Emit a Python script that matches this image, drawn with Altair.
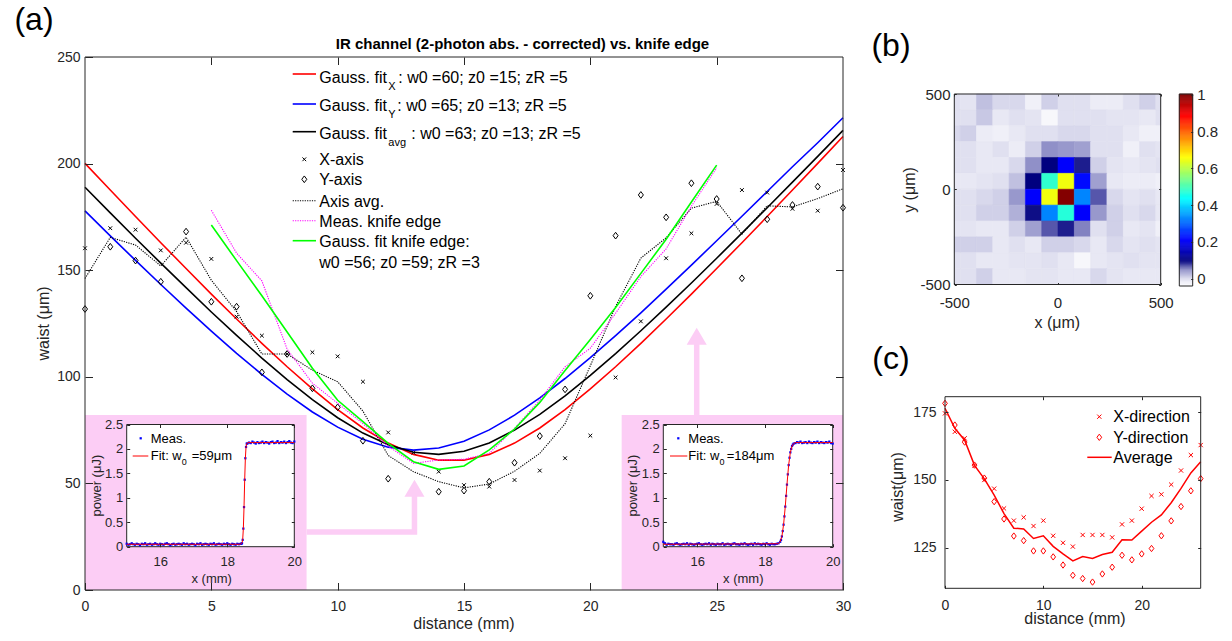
import altair as alt
import pandas as pd

FONT = "Liberation Sans"
AX = "#262626"
PINK = "#FCCDF5"
W, H = 1232, 641

# ---------------- (a) main panel data ----------------
dist = list(range(31))
x_axis_waist = [160.3, 169.7, 169.0, 159.3, 162.9, 155.3, 128.2, 119.3, 110.7, 111.5, 109.6, 97.7, 73.9, 64.4, 55.5,
                49.2, 48.5, 51.6, 56.0, 61.8, 72.4, 99.7, 126.0, 155.6, 167.3, 181.1, 187.6, 186.4, 178.8, 177.9, 197.0]
y_axis_waist = [131.8, 161.0, 154.5, 144.6, 168.1, 135.2, 132.9, 102.1, 110.7, 94.6, 85.7, 70.0, 52.2, 46.6, 46.1,
                46.6, 50.8, 59.7, 72.2, 94.1, 138.0, 166.2, 185.3, 174.8, 190.8, 183.4, 146.2, 173.9, 180.6, 189.2, 179.3]
axis_avg = [146.1, 165.4, 161.8, 152.0, 165.5, 145.3, 130.6, 110.7, 110.7, 103.1, 97.7, 83.9, 63.1, 55.5, 50.8,
            47.9, 49.7, 55.7, 64.1, 78.0, 105.2, 133.0, 155.7, 165.2, 179.1, 182.3, 166.9, 180.2, 179.7, 183.6, 188.2]
fit_x = [200.1, 187.6, 175.2, 162.9, 150.8, 138.8, 127.1, 115.7, 104.7, 94.3, 84.6, 76.0, 68.9, 63.6, 60.9,
         60.9, 63.6, 68.9, 76.0, 84.6, 94.3, 104.7, 115.7, 127.1, 138.8, 150.8, 162.9, 175.2, 187.6, 200.1, 212.7]
fit_y = [177.8, 166.1, 154.6, 143.3, 132.2, 121.4, 111.0, 101.1, 91.9, 83.5, 76.4, 70.7, 67.0, 65.6, 66.6,
         69.8, 75.1, 82.0, 90.1, 99.2, 109.0, 119.3, 130.0, 141.1, 152.4, 163.8, 175.3, 186.9, 198.5, 209.8, 221.5]
fit_avg = [188.9, 176.9, 165.0, 153.3, 141.8, 130.4, 119.4, 108.8, 98.7, 89.3, 80.8, 73.6, 68.1, 64.6, 63.6,
           65.1, 69.0, 75.0, 82.4, 91.1, 100.7, 110.9, 121.6, 132.7, 144.0, 155.6, 167.4, 179.3, 191.3, 203.4, 215.6]
ke_dist = list(range(5, 26))
ke_meas = [178.1, 158.0, 145.0, 113.0, 97.0, 87.6, 78.0, 67.5, 59.4, 61.0, 61.3, 64.1, 75.8, 89.1, 104.7,
           113.4, 129.8, 147.0, 160.0, 180.0, 198.0]
ke_fit = [171.2, 154.5, 138.0, 121.0, 104.0, 89.0, 79.0, 68.8, 60.2, 56.6, 58.2, 65.7, 75.5, 88.0, 103.0,
          117.5, 132.5, 148.5, 164.5, 182.0, 199.3]

# ---------------- insets (knife-edge scans) ----------------
grid_low = [round(15 + 0.05 * i, 2) for i in range(69)]          # 15.00 .. 18.40
left_low = [0.06, 0.04, 0.05, 0.07, 0.05, 0.04, 0.06, 0.05, 0.03, 0.06,
            0.05, 0.07, 0.04, 0.05, 0.06, 0.04, 0.05, 0.07, 0.05, 0.04,
            0.06, 0.05, 0.04, 0.06, 0.07, 0.05, 0.03, 0.05, 0.06, 0.04,
            0.05, 0.06, 0.05, 0.04, 0.07, 0.05, 0.06, 0.04, 0.05, 0.06,
            0.05, 0.03, 0.06, 0.05, 0.07, 0.04, 0.05, 0.06, 0.05, 0.04,
            0.06, 0.05, 0.07, 0.04, 0.05, 0.06, 0.05, 0.04, 0.06, 0.05,
            0.07, 0.05, 0.04, 0.06, 0.05, 0.04, 0.06, 0.05, 0.06]
left_rise_x = [18.42, 18.44, 18.46, 18.48, 18.50, 18.52, 18.54, 18.56, 18.58]
left_rise = [0.06, 0.07, 0.14, 0.37, 0.81, 1.37, 1.81, 2.04, 2.11]
left_high_x = [round(18.6 + 0.05 * i, 2) for i in range(29)]      # 18.60 .. 20.00
left_high = [2.11, 2.13, 2.12, 2.15, 2.13, 2.11, 2.14, 2.12, 2.13, 2.15,
             2.12, 2.14, 2.13, 2.11, 2.14, 2.15, 2.12, 2.13, 2.16, 2.12,
             2.14, 2.13, 2.15, 2.12, 2.14, 2.16, 2.13, 2.12, 2.15]
left_fit_x = [15, 18.40, 18.44, 18.46, 18.48, 18.50, 18.52, 18.54, 18.56, 18.58, 18.62, 20]
left_fit = [0.05, 0.05, 0.08, 0.14, 0.37, 0.81, 1.37, 1.81, 2.04, 2.11, 2.13, 2.13]

right_low = [0.10, 0.07, 0.04, 0.06, 0.05, 0.05, 0.04, 0.06, 0.07, 0.05,
             0.04, 0.05, 0.06, 0.05, 0.07, 0.04, 0.06, 0.05, 0.04, 0.05,
             0.06, 0.07, 0.05, 0.04, 0.05, 0.06, 0.05, 0.07, 0.04, 0.06,
             0.05, 0.04, 0.06, 0.05, 0.05, 0.07, 0.04, 0.05, 0.06, 0.05,
             0.04, 0.06, 0.07, 0.05, 0.05, 0.04, 0.06, 0.05, 0.07, 0.05,
             0.04, 0.05, 0.06, 0.04, 0.07, 0.05, 0.06, 0.05, 0.04, 0.06,
             0.05, 0.07, 0.05, 0.04, 0.06, 0.05, 0.05, 0.06, 0.07]
right_rise_x = [18.45, 18.475, 18.5, 18.525, 18.55, 18.575, 18.6, 18.625, 18.65, 18.675,
                18.7, 18.725, 18.75, 18.775, 18.8, 18.825, 18.85]
right_rise = [0.10, 0.14, 0.21, 0.32, 0.45, 0.62, 0.82, 1.04, 1.27, 1.48,
              1.67, 1.82, 1.93, 2.00, 2.06, 2.09, 2.11]
right_high_x = [round(18.9 + 0.05 * i, 2) for i in range(23)]     # 18.90 .. 20.00
right_high = [2.12, 2.14, 2.13, 2.15, 2.12, 2.13, 2.14, 2.12, 2.15, 2.13,
              2.12, 2.14, 2.13, 2.15, 2.12, 2.14, 2.13, 2.12, 2.14, 2.13,
              2.15, 2.12, 2.11]
right_fit_x = [15, 18.40, 18.45, 18.5, 18.55, 18.6, 18.65, 18.7, 18.75, 18.8, 18.85, 18.9, 19.0, 20]
right_fit = [0.05, 0.06, 0.10, 0.21, 0.45, 0.82, 1.27, 1.67, 1.93, 2.06, 2.11, 2.13, 2.13, 2.13]

# ---------------- (b) beam profile ----------------
hx = [-511, -432, -353, -274, -195, -116, -37, 42, 121, 200, 279, 358, 437, 516]
hy = [458.3, 375.0, 291.7, 208.3, 125.0, 41.7, -41.7, -125.0, -208.3, -291.7, -375.0, -458.3]
heat = [
    [0.0, -0.005, 0.02, 0.005, 0.005, -0.02, 0.01, 0.0, 0.0, -0.015, -0.015, 0.0, 0.01, 0.0],
    [0.0, 0.0, 0.015, -0.01, 0.0, -0.005, -0.03, 0.0, 0.0, 0.0, -0.005, -0.005, -0.01, 0.0],
    [0.005, 0.01, -0.015, -0.02, -0.01, 0.0, 0.0, 0.005, 0.005, 0.0, 0.0, -0.01, -0.02, -0.02],
    [0.0, 0.0, -0.01, 0.0, -0.015, 0.01, 0.05, 0.045, 0.04, 0.0, 0.0, -0.02, 0.0, -0.005],
    [0.0, 0.0, -0.01, -0.01, 0.005, 0.05, 0.1, 0.21, 0.09, 0.01, -0.005, -0.01, -0.005, 0.0],
    [-0.01, -0.01, -0.005, 0.0, 0.02, 0.1, 0.48, 0.65, 0.22, 0.04, -0.01, -0.015, -0.015, -0.02],
    [0.0, 0.0, 0.005, 0.01, 0.045, 0.21, 0.65, 1.0, 0.33, 0.07, 0.005, -0.005, 0.0, -0.01],
    [0.0, 0.0, 0.01, 0.01, 0.03, 0.095, 0.33, 0.47, 0.21, 0.045, 0.01, 0.0, 0.005, -0.01],
    [-0.005, -0.005, -0.01, -0.01, 0.01, 0.04, 0.07, 0.09, 0.055, 0.0, 0.01, -0.01, -0.005, -0.02],
    [0.01, 0.01, 0.01, -0.01, 0.0, -0.01, 0.01, 0.01, 0.005, -0.01, 0.005, -0.005, 0.0, -0.005],
    [0.0, 0.0, -0.01, -0.01, -0.005, -0.005, 0.0, -0.01, -0.03, -0.01, -0.005, 0.0, -0.005, -0.005],
    [0.0, 0.0, 0.01, -0.01, -0.01, -0.005, -0.005, -0.01, -0.01, 0.005, -0.005, -0.01, -0.01, -0.01],
]
cbar_ticks = [0, 0.2, 0.4, 0.6, 0.8, 1]

# ---------------- (c) waist vs distance ----------------
c_dist = list(range(27))
c_x = [174.6, 167.8, 165.4, 155.2, 150.0, 146.8, 139.5, 135.0, 136.2, 133.0, 135.0, 129.4, 126.8, 125.4,
       129.7, 129.7, 129.7, 128.8, 133.6, 135.0, 139.4, 144.1, 144.7, 148.3, 153.5, 159.2, 162.9]
c_y = [178.3, 170.3, 164.0, 155.5, 150.7, 142.0, 135.6, 129.3, 127.6, 123.8, 123.8, 121.6, 118.6, 114.8,
       113.6, 112.3, 115.3, 117.8, 122.2, 120.5, 122.7, 124.7, 129.4, 134.9, 140.2, 146.0, 150.5]
c_avg = [176.5, 169.1, 164.7, 155.4, 150.4, 144.4, 137.6, 132.2, 131.9, 128.4, 129.4, 125.5, 122.7, 120.1,
         121.7, 121.0, 122.5, 123.3, 127.9, 127.8, 131.1, 134.4, 137.1, 141.6, 146.9, 152.6, 156.7]

# ======================================================================
ONE = pd.DataFrame({"k": [0]})
XMARK = "M-1,-1L1,1M-1,1L1,-1"
DMARK = "M0,-1L0.75,0L0,1L-0.75,0Z"
HEAD = "M0,-1L1.18,1L-1.18,1Z"


def sc(dom, rng, **kw):
    return alt.Scale(domain=dom, range=rng, nice=False, zero=False, **kw)


XA = sc([0, 30], [85, 843])
YA = sc([0, 250], [590, 57])
XL = sc([15, 20], [126.7, 294.3])
XR = sc([15, 20], [663.3, 832.7])
YI = sc([0, 2.5], [546.7, 424.5])
XB = sc([-500, 500], [954.3, 1160.7], clamp=True)
YB = sc([-500, 500], [284.5, 94], clamp=True)
XCB = sc([0, 1], [1179.3, 1192.7])
YCB = sc([-0.04, 1.005], [286, 94])
XC = sc([0, 26], [945, 1200.7])
YC = sc([110, 180.76], [588.3, 396.7])


def axis(orient, offset, values, tick, labels=True, pad=4, size=14):
    kw = dict(orient=orient, offset=offset, values=values, tickSize=tick, tickColor=AX, tickWidth=1,
              domain=False, grid=False, title=None, labels=labels, zindex=1)
    if labels:
        kw.update(labelFont=FONT, labelFontSize=size, labelColor=AX, labelPadding=pad,
                  labelFlush=False, labelOverlap=False, labelExpr="datum.value")
    return alt.Axis(**kw)


def xy(chart, xf, yf, xs, ys, xaxis=None, yaxis=None, **extra):
    return chart.encode(x=alt.X(xf, scale=xs, axis=xaxis), y=alt.Y(yf, scale=ys, axis=yaxis), **extra)


def box(xs, ys, x0, x1, y0, y1, xaxis=None, yaxis=None, fill=None, stroke=AX, sw=1):
    df = pd.DataFrame({"a": [x0], "b": [x1], "c": [y0], "e": [y1]})
    mk = dict(strokeWidth=sw, stroke=stroke)
    if fill:
        mk["fill"] = fill
    else:
        mk["fillOpacity"] = 0
    return alt.Chart(df).mark_rect(**mk).encode(
        x=alt.X("a:Q", scale=xs, axis=xaxis), x2="b:Q",
        y=alt.Y("c:Q", scale=ys, axis=yaxis), y2="e:Q")


def T(s, x, y, size=16, align="left", baseline="alphabetic", angle=0, bold=False, color="black"):
    kw = dict(align=align, baseline=baseline, fontSize=size, font=FONT, color=color, text=s)
    if angle:
        kw["angle"] = angle
    if bold:
        kw["fontWeight"] = "bold"
    return alt.Chart(ONE).mark_text(**kw).encode(x=alt.value(x), y=alt.value(y))


def LR(x1, x2, y, color, width=1.6, dash=None):
    kw = dict(color=color, strokeWidth=width)
    if dash:
        kw["strokeDash"] = dash
    return alt.Chart(ONE).mark_rule(**kw).encode(x=alt.value(x1), x2=alt.value(x2), y=alt.value(y))


def LP(x, y, shape, size, color, filled=False):
    kw = dict(shape=shape, size=size, color=color, filled=filled, opacity=1)
    if not filled:
        kw["strokeWidth"] = 1
    return alt.Chart(ONE).mark_point(**kw).encode(x=alt.value(x), y=alt.value(y))


layers = []

# ---------------- (a) ----------------
dfA = pd.DataFrame({"d": dist, "xw": x_axis_waist, "yw": y_axis_waist, "avg": axis_avg,
                    "fx": fit_x, "fy": fit_y, "fa": fit_avg})
dfK = pd.DataFrame({"d": ke_dist, "m": ke_meas, "f": ke_fit})

layers.append(xy(alt.Chart(dfA).mark_line(color="#FF0000", strokeWidth=1.6), "d:Q", "fx:Q", XA, YA,
                 xaxis=axis("bottom", -58.5, [0, 5, 10, 15, 20, 25, 30], 7.5, pad=9, size=14),
                 yaxis=axis("left", -92.5, [0, 50, 100, 150, 200, 250], 7.5, pad=5, size=14)))
layers.append(xy(alt.Chart(dfA).mark_line(color="#0000FF", strokeWidth=1.6), "d:Q", "fy:Q", XA, YA))
layers.append(xy(alt.Chart(dfA).mark_line(color="#000000", strokeWidth=1.6), "d:Q", "fa:Q", XA, YA))
layers.append(xy(alt.Chart(dfA).mark_point(shape=XMARK, size=14, color="black", filled=False,
                                           strokeWidth=1, opacity=1), "d:Q", "xw:Q", XA, YA))
layers.append(xy(alt.Chart(dfA).mark_point(shape=DMARK, size=45, color="black", filled=False,
                                           strokeWidth=1, opacity=1), "d:Q", "yw:Q", XA, YA))
layers.append(xy(alt.Chart(dfA).mark_line(color="#000000", strokeWidth=1.1, strokeDash=[1.2, 1.2]),
                 "d:Q", "avg:Q", XA, YA))
layers.append(xy(alt.Chart(dfK).mark_line(color="#FF00FF", strokeWidth=1.1, strokeDash=[1.2, 1.2]),
                 "d:Q", "m:Q", XA, YA))
layers.append(xy(alt.Chart(dfK).mark_line(color="#00FF00", strokeWidth=1.6), "d:Q", "f:Q", XA, YA))

# pink inset panels
layers.append(box(XA, YA, 0, 8.77, 0, 82.1, fill=PINK, stroke=PINK, sw=0))
layers.append(box(XA, YA, 21.24, 30, 0, 82.1, fill=PINK, stroke=PINK, sw=0))

# pink arrows
arr_l = pd.DataFrame({"d": [8.77, 13.04, 13.04], "w": [27.2, 27.2, 44.5], "o": [0, 1, 2]})
layers.append(xy(alt.Chart(arr_l).mark_line(color=PINK, strokeWidth=5.5, strokeJoin="miter", strokeCap="butt"),
                 "d:Q", "w:Q", XA, YA, order="o:Q"))
arr_r = pd.DataFrame({"d": [24.21, 24.21], "w": [82.1, 115.5], "o": [0, 1]})
layers.append(xy(alt.Chart(arr_r).mark_line(color=PINK, strokeWidth=5.5, strokeCap="butt"),
                 "d:Q", "w:Q", XA, YA, order="o:Q"))
heads = pd.DataFrame({"d": [13.04, 24.21], "w": [47.7, 119.0]})
layers.append(xy(alt.Chart(heads).mark_point(shape=HEAD, size=289, color=PINK, filled=True, opacity=1),
                 "d:Q", "w:Q", XA, YA))

# insets
for XS, lowv, rx, rv, hxv, hv, fx, fv, left_off, right_off in [
    (XL, left_low, left_rise_x, left_rise, left_high_x, left_high, left_fit_x, left_fit, -129.7, -940.7),
    (XR, right_low, right_rise_x, right_rise, right_high_x, right_high, right_fit_x, right_fit, -666.3, -402.3),
]:
    layers.append(box(XS, YI, 15, 20, 0, 2.5, fill="white",
                      xaxis=axis("top", -427.5, [16, 18, 20], 3, labels=False),
                      yaxis=axis("right", right_off, [0, 0.5, 1, 1.5, 2, 2.5], 3, labels=False)))
    meas = pd.DataFrame({"x": grid_low + rx + hxv, "p": lowv + rv + hv})
    layers.append(xy(alt.Chart(meas).mark_square(size=5, color="#0000FF", opacity=1), "x:Q", "p:Q", XS, YI,
                     xaxis=axis("bottom", -97.3, [16, 18, 20], 3, pad=8.4, size=13),
                     yaxis=axis("left", left_off, [0, 0.5, 1, 1.5, 2, 2.5], 3, pad=4, size=13)))
    fit = pd.DataFrame({"x": fx, "p": fv})
    layers.append(xy(alt.Chart(fit).mark_line(color="#FF0000", strokeWidth=1), "x:Q", "p:Q", XS, YI))

# main box + top/right ticks
layers.append(box(XA, YA, 0, 30, 0, 250,
                  xaxis=axis("top", -64.5, [5, 10, 15, 20, 25], 7.5, labels=False),
                  yaxis=axis("right", -396.5, [50, 100, 150, 200], 7.5, labels=False)))

# ---------------- (b) ----------------
rows = []
for j, yc in enumerate(hy):
    for i, xc in enumerate(hx):
        rows.append({"x0": xc - 39.5, "x1": xc + 39.5, "y0": yc - 41.67, "y1": yc + 41.67, "v": heat[j][i]})
dfH = pd.DataFrame(rows)
CS = alt.Scale(domain=[-0.04, 0.0, 0.05, 0.1, 0.2125, 0.4375, 0.6625, 0.8875, 1.005],
               range=["#ffffff", "#e0e0f0", "#9090c8", "#00007f", "#0000ff", "#00ffff", "#ffff00", "#ff0000",
                      "#7f0000"],
               interpolate="rgb", clamp=True)
layers.append(alt.Chart(dfH).mark_rect(strokeWidth=0.6).encode(
    x=alt.X("x0:Q", scale=XB, axis=axis("bottom", -358.5, [-500, 0, 500], 2, pad=10.7, size=15)),
    x2="x1:Q",
    y=alt.Y("y0:Q", scale=YB, axis=axis("left", -956.3, [-500, 0, 500], 2, pad=4.3, size=15)),
    y2="y1:Q",
    color=alt.Color("v:Q", scale=CS, legend=None),
    stroke=alt.Stroke("v:Q", scale=CS, legend=None)))
layers.append(box(XB, YB, -500, 500, -500, 500,
                  xaxis=axis("top", -96, [-500, 0, 500], 2, labels=False),
                  yaxis=axis("right", -73.3, [-500, 0, 500], 2, labels=False)))

# colorbar: thin strips of the colour scale
cb_lo = [round(-0.04 + 0.005 * i, 3) for i in range(209)]
dfCB = pd.DataFrame({"lo": cb_lo, "hi": [v + 0.005 for v in cb_lo], "mid": [v + 0.0025 for v in cb_lo],
                     "a": [0] * len(cb_lo), "b": [1] * len(cb_lo)})
layers.append(alt.Chart(dfCB).mark_rect(strokeWidth=0.5).encode(
    x=alt.X("a:Q", scale=XCB, axis=None), x2="b:Q",
    y=alt.Y("lo:Q", scale=YCB, axis=None), y2="hi:Q",
    color=alt.Color("mid:Q", scale=CS, legend=None),
    stroke=alt.Stroke("mid:Q", scale=CS, legend=None)))
layers.append(box(XCB, YCB, 0, 1, -0.04, 1.005,
                  yaxis=axis("right", -41.3, cbar_ticks, 2, pad=4, size=15)))

# ---------------- (c) ----------------
dfC = pd.DataFrame({"d": c_dist, "x": c_x, "y": c_y, "a": c_avg})
layers.append(xy(alt.Chart(dfC).mark_point(shape=XMARK, size=18, color="#FF0000", filled=False,
                                           strokeWidth=1, opacity=1), "d:Q", "x:Q", XC, YC,
                 xaxis=axis("bottom", -55.7, [0, 10, 20], 3, pad=9.7, size=14),
                 yaxis=axis("left", -948, [125, 150, 175], 3, pad=9, size=14)))
layers.append(xy(alt.Chart(dfC).mark_point(shape=DMARK, size=40, color="#FF0000", filled=False,
                                           strokeWidth=1, opacity=1), "d:Q", "y:Q", XC, YC))
layers.append(xy(alt.Chart(dfC).mark_line(color="#FF0000", strokeWidth=1.5), "d:Q", "a:Q", XC, YC))
layers.append(box(XC, YC, 0, 26, 110, 180.76,
                  xaxis=axis("top", -399.7, [10, 20], 3, labels=False),
                  yaxis=axis("right", -34.3, [125, 150, 175], 3, labels=False)))

# ---------------- texts & legends ----------------
layers += [
    T("IR channel (2-photon abs. - corrected) vs. knife edge", 522.5, 49, size=15, align="center", bold=True),
    T("(a)", 34, 20, size=32, align="center", baseline="middle"),
    T("(b)", 891, 46, size=32, align="center", baseline="middle"),
    T("(c)", 891, 359, size=32, align="center", baseline="middle"),
    T("distance (mm)", 464, 624, size=16, align="center", baseline="middle", color=AX),
    T("waist (μm)", 44, 323.5, size=16, align="center", baseline="middle", angle=270, color=AX),
    T("x (μm)", 1057.3, 323.3, size=16, align="center", baseline="middle", color=AX),
    T("y (μm)", 910, 190, size=16, align="center", baseline="middle", angle=270, color=AX),
    T("waist(μm)", 898.3, 487, size=16, align="center", baseline="middle", angle=270, color=AX),
    T("distance (mm)", 1075, 619.3, size=16, align="center", baseline="middle", color=AX),
    T("x (mm)", 211.7, 579, size=13, align="center", baseline="middle", color=AX),
    T("power (μJ)", 96.7, 485.6, size=13, align="center", baseline="middle", angle=270, color=AX),
    T("x (mm)", 743.3, 579, size=13, align="center", baseline="middle", color=AX),
    T("power (μJ)", 633.3, 485.6, size=13, align="center", baseline="middle", angle=270, color=AX),
]

# legend (a)
leg = [
    ("#FF0000", 74, 82.5, "X", 398.3, ": w0 =60; z0 =15; zR =5"),
    ("#0000FF", 104, 110.8, "Y", 397.3, ": w0 =65; z0 =13; zR =5"),
    ("#000000", 131.7, 138.5, "avg", 411.3, ": w0 =63; z0 =13; zR =5"),
]
for col, ly, bl, sub, rx0, rest in leg:
    layers += [LR(292.7, 316, ly, col), T("Gauss. fit", 319.3, bl), T(sub, 388.3, bl + 7, size=11),
               T(rest, rx0, bl)]
layers += [
    LP(304.3, 159.3, XMARK, 14, "black"), T("X-axis", 319.3, 165.1),
    LP(304.3, 179.3, DMARK, 45, "black"), T("Y-axis", 319.3, 185.1),
    LR(292.7, 316, 200.7, "#000000", width=1.1, dash=[1.2, 1.2]), T("Axis avg.", 319.3, 206.5),
    LR(292.7, 316, 220.7, "#FF00FF", width=1.1, dash=[1.2, 1.2]), T("Meas. knife edge", 319.3, 226.5),
    LR(292.7, 316, 240.7, "#00FF00"), T("Gauss. fit knife edge:", 319.3, 246.5),
    T("w0 =56; z0 =59; zR =3", 319.3, 267.5),
]
# inset legends
for mx, tx, l1, l2, sx, rx0, val in [(140.7, 150.7, 132.7, 148.3, 181.7, 191.7, "=59μm"),
                                      (678.3, 688.3, 670, 687.3, 719.5, 726.7, "=184μm")]:
    layers += [
        LP(mx, 438.3, "square", 5, "#0000FF", filled=True), T("Meas.", tx, 443, size=13),
        LR(l1, l2, 456, "#FF0000", width=1), T("Fit: w", tx, 460, size=13), T("0", sx, 465, size=9),
        T(val, rx0, 460, size=13),
    ]
# legend (c)
layers += [
    LP(1099.3, 416.7, XMARK, 18, "#FF0000"), T("X-direction", 1113.3, 422.4),
    LP(1099.3, 437.3, DMARK, 40, "#FF0000"), T("Y-direction", 1113.3, 443),
    LR(1087.3, 1111.7, 457.3, "#FF0000", width=1.5), T("Average", 1113.3, 463),
]

chart = alt.layer(*layers).resolve_scale(
    x="independent", y="independent", color="independent", stroke="independent"
).resolve_axis(x="independent", y="independent").properties(
    width=W, height=H, autosize=alt.AutoSizeParams(type="none"), padding=0
).configure_view(strokeWidth=0)

chart.save("out.html", embed_options={"renderer": "svg", "actions": False})
